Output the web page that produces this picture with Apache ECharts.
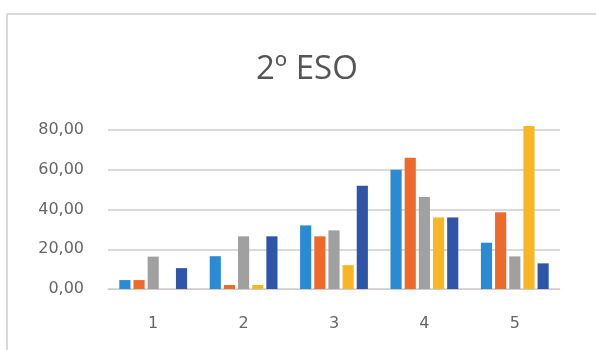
<!DOCTYPE html>
<html>
<head>
<meta charset="utf-8">
<script src="https://cdn.jsdelivr.net/npm/echarts@6/dist/echarts.min.js"></script>
<style>
  html, body { margin: 0; padding: 0; background: #ffffff; }
  #chart { width: 596px; height: 350px; }
</style>
</head>
<body>
<div id="chart"></div>
<script>
// Categories (answer scale) and the five series of percentages
const categories = ['1', '2', '3', '4', '5'];
const serie1 = [4.5, 16.5, 32.0, 60.0, 23.3];
const serie2 = [4.5, 2.0, 26.5, 66.0, 38.6];
const serie3 = [16.3, 26.5, 29.5, 46.3, 16.4];
const serie4 = [0, 2.0, 12.0, 36.0, 82.0];
const serie5 = [10.5, 26.5, 52.0, 36.0, 12.9];
const seriesNames = ['Serie1', 'Serie2', 'Serie3', 'Serie4', 'Serie5'];
const seriesColors = ['#2a8ad4', '#ee6a2a', '#a0a0a0', '#f8b526', '#2e55a8'];
const title = '2º ESO';

const allSeries = [serie1, serie2, serie3, serie4, serie5];

const chart = echarts.init(document.getElementById('chart'), null, { renderer: 'canvas' });

chart.setOption({
  backgroundColor: '#ffffff',
  animation: false,
  title: {
    text: title,
    left: 251,
    top: 48,
    textStyle: { fontFamily: 'Open Sans', fontSize: 33, fontWeight: 'normal', color: '#555555' }
  },
  graphic: [
    { type: 'line', shape: { x1: 7, y1: 14, x2: 596, y2: 14 }, style: { stroke: '#dcd8d8', lineWidth: 2 } },
    { type: 'line', shape: { x1: 7, y1: 14, x2: 7, y2: 350 }, style: { stroke: '#dcd8d8', lineWidth: 2 } }
  ],
  grid: { left: 108, right: 36, top: 130, bottom: 61, containLabel: false },
  xAxis: {
    type: 'category',
    data: categories,
    axisLine: { lineStyle: { color: '#d0cccc', width: 1 } },
    axisTick: { show: false },
    axisLabel: { margin: 27, fontFamily: 'DejaVu Sans', fontSize: 16, color: '#666666' }
  },
  yAxis: {
    type: 'value',
    min: 0,
    max: 80,
    interval: 20,
    axisLine: { show: false },
    axisTick: { show: false },
    splitLine: { lineStyle: { color: '#d3cdcd', width: 1.5 } },
    axisLabel: {
      margin: 24,
      fontFamily: 'DejaVu Sans',
      fontSize: 16,
      color: '#666666',
      formatter: v => v.toFixed(2).replace('.', ',')
    }
  },
  series: allSeries.map((d, i) => ({
    name: seriesNames[i],
    type: 'bar',
    data: d,
    clip: false,
    barGap: '27%',
    barCategoryGap: '25%',
    itemStyle: { color: seriesColors[i] }
  }))
});
</script>
</body>
</html>
